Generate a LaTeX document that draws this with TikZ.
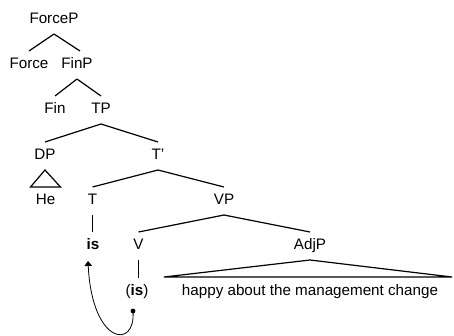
\documentclass[tikz,border=0pt]{standalone}
\usepackage{fontspec}
\setmainfont{Liberation Sans}
\usetikzlibrary{arrows.meta}
\tikzset{
  lbl/.style={anchor=base, inner sep=0pt, font=\fontsize{15.2}{18}\selectfont},
  branch/.style={line width=1.2pt},
  movement/.style={line width=0.8pt, -{Triangle[length=5pt,width=7.5pt]}},
}
% edge from a parent label down to a child label
\newcommand\treeedge[3][0pt]{%
  \draw[branch] ([yshift=-11pt]#2.base) -- ([xshift=#1,yshift=17pt]#3.base);}
\begin{document}
\begin{tikzpicture}[x=1pt, y=-1pt]
  \useasboundingbox (0,0) rectangle (454,335);

  % labels
  \node[lbl] (ForceP) at (54,23)  {ForceP};
  \node[lbl] (Force)  at (29,68)  {Force};
  \node[lbl] (FinP)   at (77,68)  {FinP};
  \node[lbl] (Fin)    at (55,113) {Fin};
  \node[lbl] (TP)     at (101,113) {TP};
  \node[lbl] (DP)     at (45,159) {DP};
  \node[lbl] (Tbar)   at (158,159) {T'};
  \node[lbl] (He)     at (45.5,204) {He};
  \node[lbl] (T)      at (92.5,204) {T};
  \node[lbl] (VP)     at (224,204) {VP};
  \node[lbl] (isT)    at (93,249) {\bfseries is};
  \node[lbl] (V)      at (138.5,249) {V};
  \node[lbl] (AdjP)   at (310,249) {AdjP};
  \node[lbl] (isV)    at (137,295) {(\textbf{is})};
  \node[lbl] (happy)  at (310,295) {happy about the management change};

  % branches
  \treeedge{ForceP}{Force}
  \treeedge[3pt]{ForceP}{FinP}
  \treeedge{FinP}{Fin}
  \treeedge{FinP}{TP}
  \treeedge{TP}{DP}
  \treeedge{TP}{Tbar}
  \treeedge{Tbar}{T}
  \treeedge{Tbar}{VP}
  \treeedge{VP}{V}
  \treeedge{VP}{AdjP}
  \draw[branch] ([yshift=-11pt]T.base) -- ([yshift=17pt]T.base |- isT.base);
  \draw[branch] ([yshift=-11pt]V.base) -- ([yshift=17pt]V.base |- isV.base);

  % roof triangles
  \draw[branch, line join=miter] ([xshift=-15pt,yshift=17pt]He.base)
    -- ([yshift=-11pt]DP.base) -- ([xshift=15pt,yshift=17pt]He.base) -- cycle;
  \draw[branch] ([xshift=-146pt,yshift=18pt]happy.base)
    -- ([yshift=-11pt]AdjP.base) -- ([xshift=142pt,yshift=18pt]happy.base) -- cycle;

  % head movement of the verb to T
  \coordinate (trace) at ([xshift=-4pt,yshift=-16pt]isV.base);
  \coordinate (landing) at ([xshift=-5pt,yshift=-12pt]isT.base);
  \fill (trace) circle (2.4pt);
  \draw[movement] (trace) .. controls ++(3,39) and (92,345) .. (landing);
\end{tikzpicture}
\end{document}
